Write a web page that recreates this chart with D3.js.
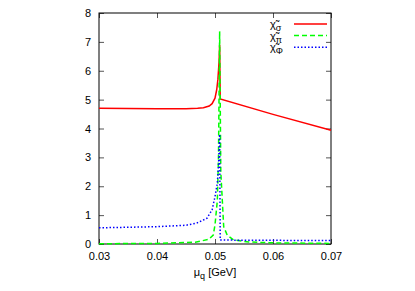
<!DOCTYPE html>
<html>
<head>
<meta charset="utf-8">
<script src="https://cdn.jsdelivr.net/npm/d3@7"></script>
<style>
  body { margin: 0; background: white; }
  svg text { font-family: "Liberation Sans", Arial, sans-serif; font-size: 11px; }
</style>
</head>
<body>
<svg id="chart"></svg>
<script>
// susceptibilities vs quark chemical potential
const muSigma = [0.030, 0.035, 0.040, 0.045, 0.047, 0.048, 0.049, 0.0495, 0.0500, 0.0503, 0.0505, 0.0507, 0.0508, 0.0509, 0.060, 0.070]
const chiSigma = [4.70, 4.69, 4.68, 4.68, 4.70, 4.72, 4.78, 4.86, 5.05, 5.35, 5.70, 6.30, 6.90, 5.02, 4.49, 3.94]

const muPi = [0.030, 0.040, 0.0466, 0.0489, 0.0497, 0.0500, 0.0504, 0.0506, 0.0508, 0.0510, 0.0515, 0.0521, 0.0532, 0.0558, 0.060, 0.070]
const chiPi = [0.01, 0.02, 0.06, 0.16, 0.31, 0.66, 1.50, 3.00, 7.37, 2.50, 0.60, 0.31, 0.14, 0.07, 0.04, 0.02]

const muPhi = [0.030, 0.035, 0.040, 0.045, 0.0468, 0.0486, 0.0495, 0.0500, 0.0504, 0.0506, 0.0508, 0.0509, 0.055, 0.070]
const chiPhi = [0.56, 0.58, 0.60, 0.65, 0.72, 0.89, 1.18, 1.64, 2.10, 2.70, 3.80, 0.14, 0.13, 0.12]

const xTicks = [0.03, 0.04, 0.05, 0.06, 0.07]
const yTicks = [0, 1, 2, 3, 4, 5, 6, 7, 8]

const series = [
	{name: "σ", mu: muSigma, chi: chiSigma, color: "#ff0000", dash: null},
	{name: "π", mu: muPi, chi: chiPi, color: "#00ff00", dash: "5,3"},
	{name: "Φ", mu: muPhi, chi: chiPhi, color: "#0000ff", dash: "1.5,2"}
]

const width = 415
const height = 291
const margin = {top: 13, right: 84, bottom: 47, left: 99}
const w = width - margin.left - margin.right
const h = height - margin.top - margin.bottom

const svg = d3.select("#chart").attr("width", width).attr("height", height)
const g = svg.append("g").attr("transform", "translate(" + margin.left + "," + margin.top + ")")

const x = d3.scaleLinear().domain([0.03, 0.07]).range([0, w])
const y = d3.scaleLinear().domain([0, 8]).range([h, 0])

// axes with inward ticks, mirrored on top/right
g.append("g")
	.attr("transform", "translate(0," + h + ")")
	.call(d3.axisBottom(x).tickValues(xTicks).tickSize(-5).tickPadding(8).tickFormat(d3.format(".2f")))
g.append("g")
	.call(d3.axisLeft(y).tickValues(yTicks).tickSize(-5).tickPadding(8))
g.append("g")
	.call(d3.axisTop(x).tickValues(xTicks).tickSize(-5).tickFormat(""))
g.append("g")
	.attr("transform", "translate(" + w + ",0)")
	.call(d3.axisRight(y).tickValues(yTicks).tickSize(-5).tickFormat(""))

g.selectAll(".domain").remove()
g.selectAll(".tick line").attr("stroke", "#555")
g.selectAll(".tick text").attr("fill", "#000").style("font-size", "11px")

g.append("rect")
	.attr("width", w).attr("height", h)
	.attr("fill", "none").attr("stroke", "#000").attr("stroke-width", 1)

const line = d3.line()
	.x(function(d) { return x(d[0]) })
	.y(function(d) { return y(d[1]) })

series.forEach(function(s) {
	g.append("path")
		.datum(s.mu.map(function(m, i) { return [m, s.chi[i]] }))
		.attr("d", line)
		.attr("fill", "none")
		.attr("stroke", s.color)
		.attr("stroke-width", 1.5)
		.attr("stroke-dasharray", s.dash)
})

// legend
const legend = g.append("g").attr("transform", "translate(" + (w - 61) + ",11)")
series.forEach(function(s, i) {
	const row = legend.append("g").attr("transform", "translate(0," + (i * 11.6) + ")")
	const t = row.append("text").attr("x", 0).attr("y", 4).attr("font-size", "11px")
	t.append("tspan").text("χ̃")
	t.append("tspan").attr("dy", 3).attr("font-size", "9px").text(s.name)
	row.append("line")
		.attr("x1", 24).attr("x2", 57).attr("y1", 0).attr("y2", 0)
		.attr("stroke", s.color)
		.attr("stroke-width", 1.5)
		.attr("stroke-dasharray", s.dash)
})

// x label
const xl = svg.append("text")
	.attr("x", margin.left + w / 2)
	.attr("y", 276)
	.attr("text-anchor", "middle")
xl.append("tspan").text("μ")
xl.append("tspan").attr("dy", 3).attr("font-size", "9px").text("q")
xl.append("tspan").attr("dy", -3).text(" [GeV]")
</script>
</body>
</html>
